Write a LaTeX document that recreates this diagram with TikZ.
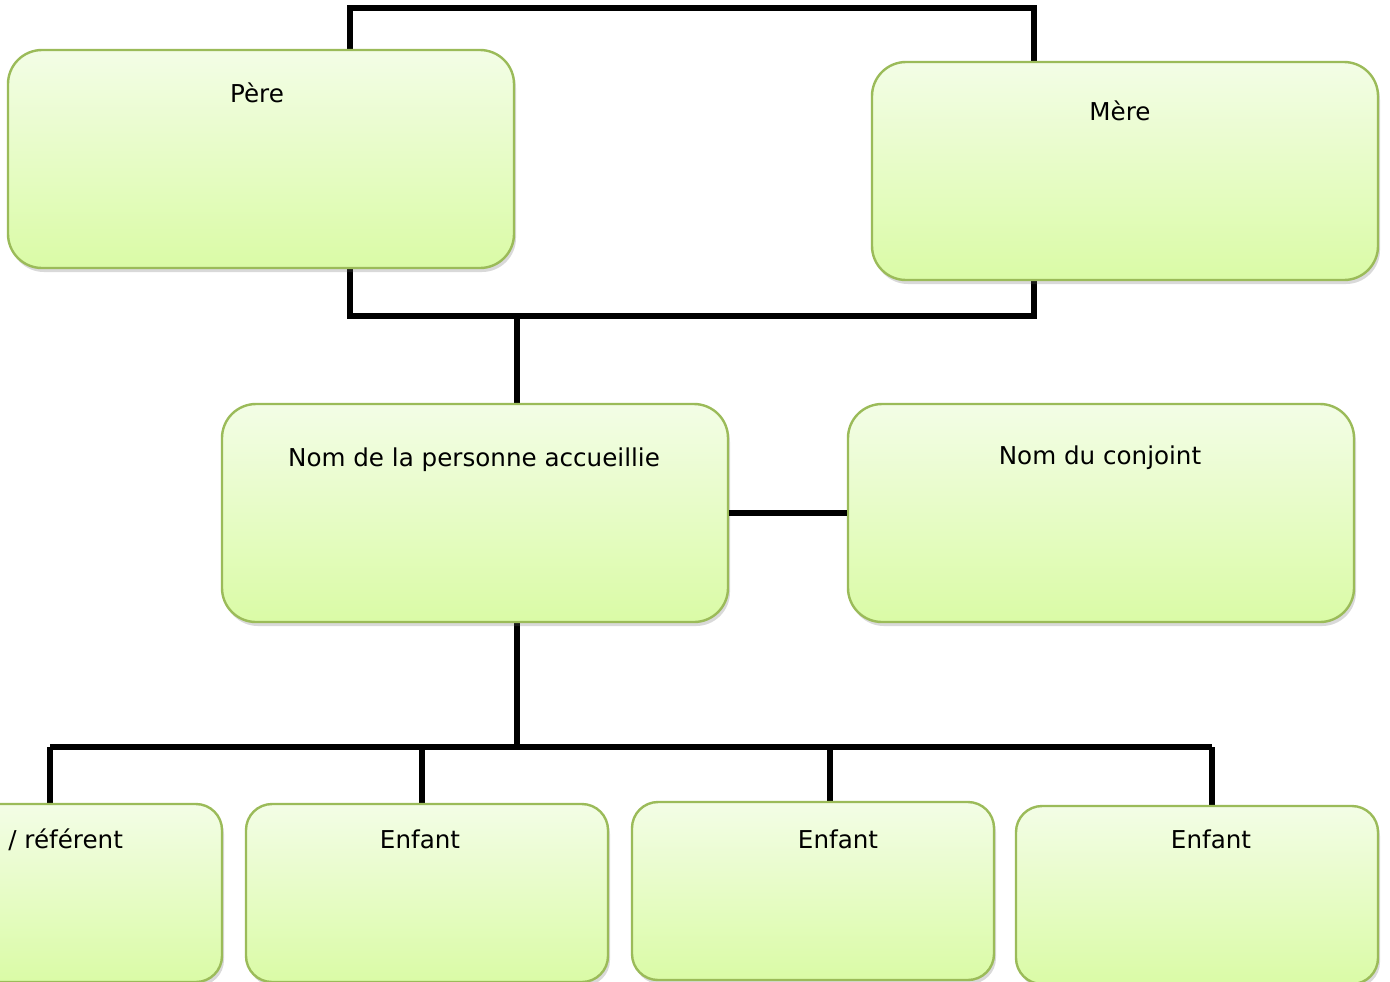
\documentclass[tikz,border=0pt]{standalone}
\usepackage{fontspec}
\setmainfont{DejaVu Sans}
\usetikzlibrary{shadows}
\definecolor{boxedge}{HTML}{9BBB59}
\definecolor{boxtop}{HTML}{F3FDE6}
\definecolor{boxbot}{HTML}{DAFBA6}
\tikzset{
  famille/.style={draw=boxedge, line width=1.2pt, rounded corners=17pt,
    top color=boxtop, bottom color=boxbot,
    drop shadow={shadow xshift=1pt, shadow yshift=-2pt, opacity=0.25, fill=black!60},
    minimum width=253pt, minimum height=109pt, inner sep=0pt},
  enfantbox/.style={famille, rounded corners=13pt, minimum width=181pt, minimum height=89pt},
  lien/.style={line width=2.7pt, black},
  titre/.style={anchor=base, font=\fontsize{12.3}{14}\selectfont, inner sep=0pt}
}
\begin{document}
\begin{tikzpicture}[x=0.5pt, y=-0.5pt]
\useasboundingbox (0,0) rectangle (1390,981);
% connector coordinates
\coordinate (tl) at (350,8);
\coordinate (tr) at (1034,8);
\coordinate (bl) at (350,316);
\coordinate (br) at (1034,316);
\coordinate (mid) at (517,316);
\coordinate (bar) at (517,747);
\coordinate (barl) at (50,747);
\coordinate (barr) at (1212,747);
\coordinate (pereTop) at (350,60);
\coordinate (mereTop) at (1034,70);
\coordinate (pereBot) at (350,260);
\coordinate (mereBot) at (1034,272);
\coordinate (accTop) at (517,410);
\coordinate (accBot) at (517,615);
\coordinate (refTop) at (50,812);
\coordinate (enfATop) at (422,812);
\coordinate (enfBTop) at (830,812);
\coordinate (enfCTop) at (1212,814);
% connectors (behind boxes)
\draw[lien] (pereTop) -- (tl) -- (tr) -- (mereTop);
\draw[lien] (pereBot) -- (bl) -- (br) -- (mereBot);
\draw[lien] (mid) -- (accTop);
\draw[lien] (accBot) -- (bar);
\draw[lien] (barl) -- (barr);
\draw[lien] (barl) -- (refTop);
\draw[lien] (enfATop |- barl) -- (enfATop);
\draw[lien] (enfBTop |- barl) -- (enfBTop);
\draw[lien] (barr) -- (enfCTop);
% boxes
\node[famille] (pere) at (261,159) {};
\node[famille] (mere) at (1125,171) {};
\node[famille] (accueillie) at (475,513) {};
\node[famille] (conjoint) at (1101,513) {};
\node[enfantbox] (referent) at (41,893) {};
\node[enfantbox] (enfantA) at (427,893) {};
\node[enfantbox] (enfantB) at (813,891) {};
\node[enfantbox] (enfantC) at (1197,895) {};
\draw[lien] (accueillie.east) -- (conjoint.west);
% texts
\node[titre] (tpere) at (257,102) {Père};
\node[titre] (tmere) at (1120,120) {Mère};
\node[titre] (taccueillie) at (474,466) {Nom de la personne accueillie};
\node[titre] (tconjoint) at (1100,464) {Nom du conjoint};
\node[titre, anchor=base west] (treferent) at (8,848) {/ référent};
\node[titre] (tenfantA) at (420,848) {Enfant};
\node[titre] (tenfantB) at (838,848) {Enfant};
\node[titre] (tenfantC) at (1211,848) {Enfant};
\end{tikzpicture}
\end{document}
